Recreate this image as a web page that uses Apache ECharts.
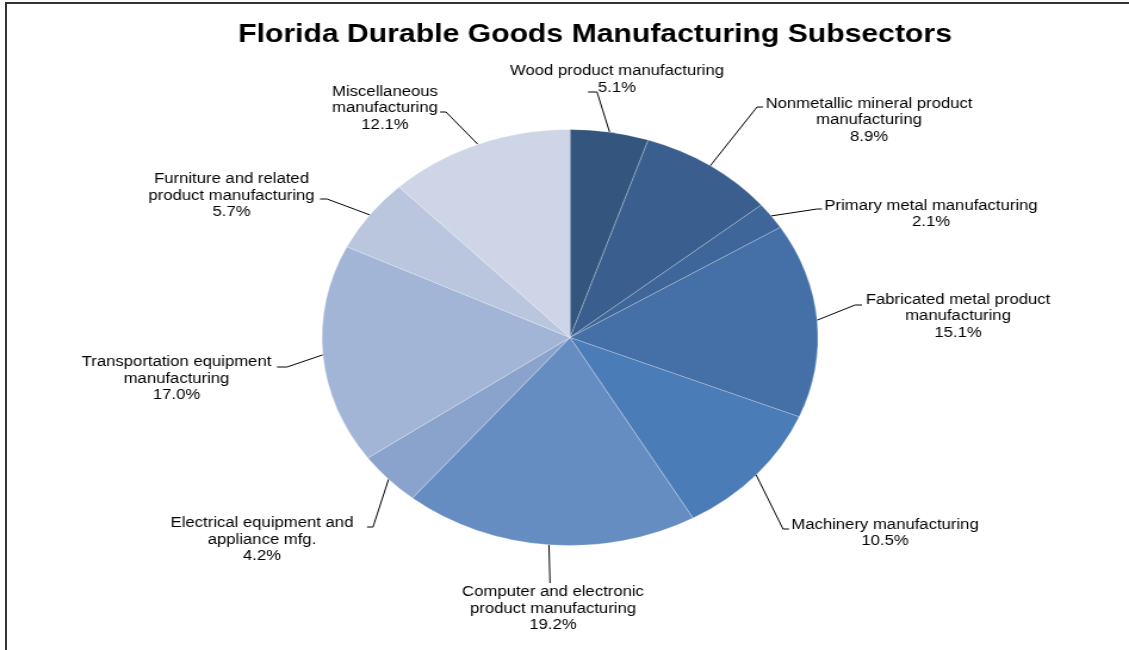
<!DOCTYPE html>
<html>
<head>
<meta charset="utf-8">
<title>Florida Durable Goods Manufacturing Subsectors</title>
<script src="https://cdn.jsdelivr.net/npm/echarts@6/dist/echarts.min.js"></script>
<style>
  html, body { margin: 0; padding: 0; background: #fff; overflow: hidden; }
  #frame { position: absolute; left: 5px; top: 2px; width: 1130px; height: 660px;
           border-left: 2px solid #333; border-top: 2px solid #333; }
  /* the original picture is stretched sideways, so the pie is drawn round and widened */
  #main { position: absolute; left: 0; top: 0; width: 947px; height: 650px;
          transform: scaleX(1.1922); transform-origin: 0 0; }
</style>
</head>
<body>
<div id="frame"></div>
<div id="main"></div>
<script>
const categories = [
  'Wood product manufacturing',
  'Nonmetallic mineral product\nmanufacturing',
  'Primary metal manufacturing',
  'Fabricated metal product\nmanufacturing',
  'Machinery manufacturing',
  'Computer and electronic\nproduct manufacturing',
  'Electrical equipment and\nappliance mfg.',
  'Transportation equipment\nmanufacturing',
  'Furniture and related\nproduct manufacturing',
  'Miscellaneous\nmanufacturing'
];
const shares = [5.1, 8.9, 2.1, 15.1, 10.5, 19.2, 4.2, 17.0, 5.7, 12.1];

const sliceColors = [
  '#33557e', '#3a5f8f', '#3e6699', '#4470a7', '#4a7cb7',
  '#668dc2', '#8aa3cc', '#a3b5d6', '#b9c6de', '#cdd5e6'
];

// label placement as in the picture: text centre x, y, elbow x, y, tick end x
const labelSpots = [
  [617, 79.5, 597, 92, 588],
  [869, 120.5, 757, 107, 763],
  [931, 214, 817, 209, 822],
  [958, 316.5, 855, 305, 862],
  [885, 533, 783, 529, 789],
  [553, 609, 550, 583, 550],
  [262, 540, 373, 527, 367],
  [176.5, 379, 287, 367, 277],
  [231.5, 196, 327, 199, 320],
  [385, 108.5, 446, 112, 440]
];

const S = 1.1922; // horizontal stretch of the picture

var chartDom = document.getElementById('main');
var myChart = echarts.init(chartDom);
var option = {
  animation: false,
  title: {
    text: 'Florida Durable Goods Manufacturing Subsectors',
    left: 595 / S,
    top: 20,
    textAlign: 'center',
    padding: 0,
    textStyle: {
      fontFamily: 'Liberation Sans',
      fontSize: 25.3,
      fontWeight: 'bold',
      lineHeight: 30,
      color: '#000'
    }
  },
  series: [
    {
      type: 'pie',
      center: [570 / S, 337.5],
      radius: 208,
      startAngle: 90,
      clockwise: true,
      avoidLabelOverlap: false,
      data: categories.map((name, i) => ({
        name: name,
        value: shares[i],
        itemStyle: { color: sliceColors[i] }
      })),
      itemStyle: { borderColor: 'rgba(255,255,255,0.4)', borderWidth: 0.6 },
      label: {
        show: true,
        position: 'outside',
        formatter: p => p.name + '\n' + p.value.toFixed(1) + '%',
        fontFamily: 'Liberation Sans',
        fontSize: 14,
        lineHeight: 16.5,
        color: '#000',
        align: 'center'
      },
      labelLine: {
        show: true,
        smooth: false,
        lineStyle: { color: '#000', width: 1 }
      },
      labelLayout: function (params) {
        const spot = labelSpots[params.dataIndex];
        const start = params.labelLinePoints[0];
        return {
          x: spot[0] / S,
          y: spot[1],
          align: 'center',
          verticalAlign: 'middle',
          labelLinePoints: [
            [start[0], start[1]],
            [spot[2] / S, spot[3]],
            [spot[4] / S, spot[3]]
          ]
        };
      }
    }
  ]
};

option && myChart.setOption(option);
</script>
</body>
</html>
